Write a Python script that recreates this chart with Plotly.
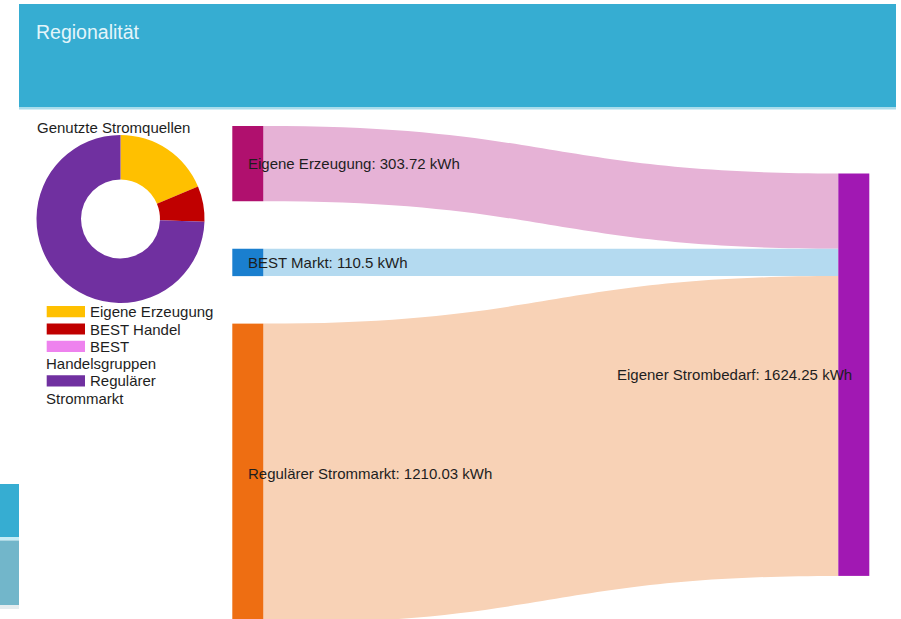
import plotly.graph_objects as go

# ---------------- data ----------------
header_title = "Regionalität"
donut_title = "Genutzte Stromquellen"

donut_labels = ["Eigene Erzeugung", "BEST Handel", "BEST Handelsgruppen", "Regulärer Strommarkt"]
donut_values = [303.72, 110.5, 0.0, 1210.03]
donut_colors = ["#FFC000", "#C00000", "#EE82EE", "#7030A0"]

source_names = ["Eigene Erzeugung", "BEST Markt", "Regulärer Strommarkt"]
source_values = [303.72, 110.5, 1210.03]
target_name = "Eigener Strombedarf"
unit = "kWh"

node_colors = ["#B0106E", "#1A7FCF", "#EE6E12", "#A118B3"]
link_colors = ["#E6B2D6", "#B4DAF0", "#F8D2B6"]

# ---------------- geometry ----------------
W, H = 901, 619
FONT = "Liberation Sans, Arial, sans-serif"
TXT = "#1e1e1e"

def px(x):
    return x / W

def py(y):
    return 1 - y / H

# sankey area (pixels)
sx0, sx1 = 232.3, 869.3
sy0, sy1 = 126.0, 619.0
thick = 31
pad = 45.3      # library padding (sets the value scale)
gap = 47.5      # vertical gap between source nodes
dom_w = sx1 - sx0
dom_h = sy1 - sy0

total = round(sum(source_values), 2)
n = len(source_values)
k = (dom_h - (n - 1) * pad) / total
heights = [v * k for v in source_values]
centers = []
t = 0.0
for h in heights:
    centers.append(t + h / 2)
    t += h + gap
stack = sum(heights) + (n - 1) * gap
right_center = stack / 2

node_x = [thick / 2 / dom_w] * n + [1 - thick / 2 / dom_w]
node_y = [c / dom_h for c in centers] + [right_center / dom_h]

fig = go.Figure()

fig.add_trace(go.Sankey(
    domain=dict(x=[px(sx0), px(sx1)], y=[0, py(sy0)]),
    arrangement="fixed",
    node=dict(
        label=[""] * (n + 1),
        customdata=source_names + [target_name],
        hovertemplate="%{customdata}: %{value} kWh<extra></extra>",
        color=node_colors,
        thickness=thick,
        pad=pad,
        line=dict(width=0),
        x=node_x,
        y=node_y,
    ),
    link=dict(
        source=list(range(n)),
        target=[n] * n,
        value=source_values,
        color=link_colors,
    ),
))

fig.add_trace(go.Pie(
    labels=donut_labels,
    values=donut_values,
    marker=dict(colors=donut_colors, line=dict(width=0)),
    hole=0.47,
    sort=False,
    direction="clockwise",
    rotation=0,
    textinfo="none",
    showlegend=False,
    domain=dict(x=[px(36.5), px(204.5)], y=[py(303), py(135)]),
))

shapes = []
annotations = []

# header bar
shapes.append(dict(type="rect", xref="paper", yref="paper", x0=px(19), x1=px(896),
                   y0=py(107), y1=py(4), fillcolor="#36ADD2", line=dict(width=0), layer="below"))
shapes.append(dict(type="rect", xref="paper", yref="paper", x0=px(19), x1=px(896),
                   y0=py(109.5), y1=py(107), fillcolor="#A9DCEB", line=dict(width=0), layer="below"))
annotations.append(dict(text=header_title, x=px(34), y=py(31.5), xref="paper", yref="paper",
                        xanchor="left", yanchor="middle", showarrow=False,
                        font=dict(family=FONT, size=19.5, color="#E4F5FA")))

# bottom-left boxes (page chrome)
shapes.append(dict(type="rect", xref="paper", yref="paper", x0=0, x1=px(19),
                   y0=py(537), y1=py(484), fillcolor="#36ADD2", line=dict(width=0), layer="below"))
shapes.append(dict(type="rect", xref="paper", yref="paper", x0=0, x1=px(19),
                   y0=py(540.5), y1=py(537), fillcolor="#C5ECF6", line=dict(width=0), layer="below"))
shapes.append(dict(type="rect", xref="paper", yref="paper", x0=0, x1=px(19),
                   y0=py(605), y1=py(540.5), fillcolor="#72B6CA", line=dict(width=0), layer="below"))
shapes.append(dict(type="rect", xref="paper", yref="paper", x0=0, x1=px(19),
                   y0=py(609), y1=py(605), fillcolor="#E4ECEF", line=dict(width=0), layer="below"))

# donut title
annotations.append(dict(text=donut_title, x=px(35), y=py(127.5), xref="paper", yref="paper",
                        xanchor="left", yanchor="middle", showarrow=False,
                        font=dict(family=FONT, size=15, color=TXT)))

# donut legend (wrapped like the original)
line_h = 17.3
row_y = 311.7
sw_x0, sw_x1 = 46.7, 85.0
txt_x = 87.5
for lab, col in zip(donut_labels, donut_colors):
    shapes.append(dict(type="rect", xref="paper", yref="paper", x0=px(sw_x0), x1=px(sw_x1),
                       y0=py(row_y + 5.6), y1=py(row_y - 5.6), fillcolor=col, line=dict(width=0)))
    if len(lab) > 17:
        first, rest = lab.split(" ", 1)
        lines = [(first, txt_x), (rest, sw_x0 - 2.5)]
    else:
        lines = [(lab, txt_x)]
    for j, (s, x) in enumerate(lines):
        annotations.append(dict(text=s, x=px(x), y=py(row_y + j * line_h), xref="paper", yref="paper",
                                xanchor="left", yanchor="middle", showarrow=False,
                                font=dict(family=FONT, size=15, color=TXT)))
    row_y += line_h * len(lines)

# sankey node labels
for name, v, c in zip(source_names, source_values, centers):
    annotations.append(dict(text=f"{name}: {v:g} {unit}", x=px(sx0 + thick / 2 - 2), y=py(sy0 + c),
                            xref="paper", yref="paper", xanchor="left", yanchor="middle",
                            showarrow=False, font=dict(family=FONT, size=15, color=TXT)))
annotations.append(dict(text=f"{target_name}: {total:g} {unit}", x=px(sx1 - thick / 2),
                        y=py(sy0 + right_center), xref="paper", yref="paper",
                        xanchor="right", yanchor="middle", showarrow=False,
                        font=dict(family=FONT, size=15, color=TXT)))

fig.update_layout(
    width=W, height=H,
    margin=dict(l=0, r=0, t=0, b=0),
    paper_bgcolor="white", plot_bgcolor="white",
    shapes=shapes, annotations=annotations,
    showlegend=False,
    font=dict(family=FONT, size=15, color=TXT),
)

fig.write_html("out.html")
